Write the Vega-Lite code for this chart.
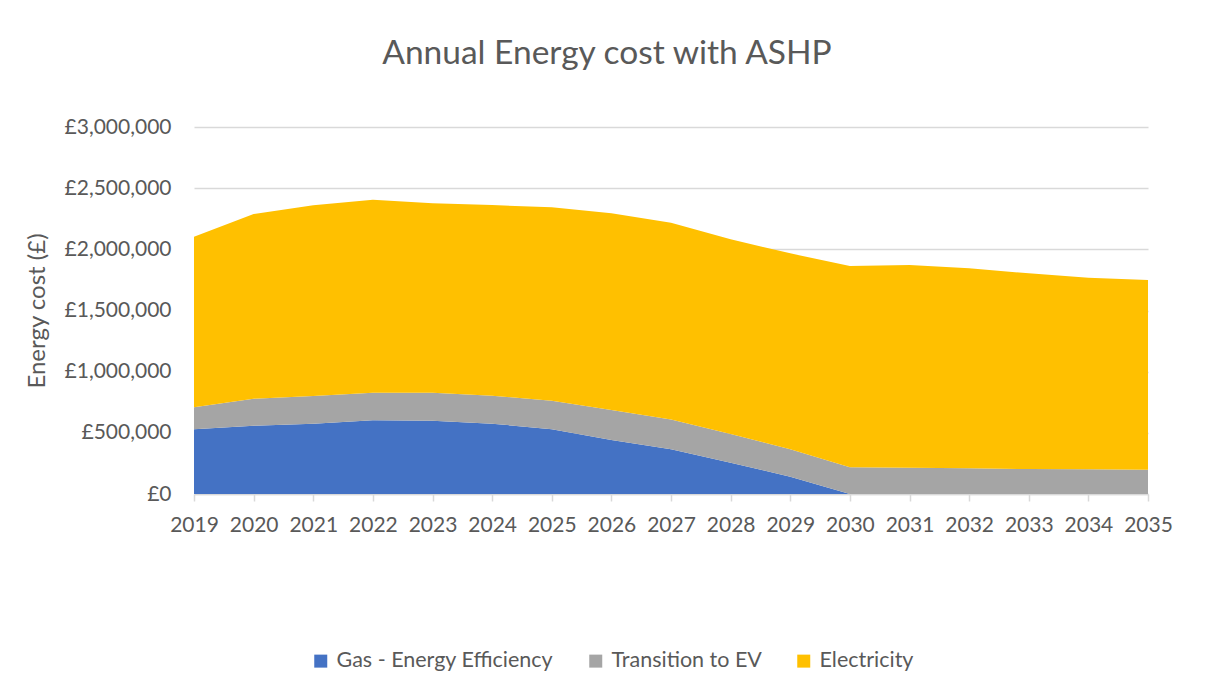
{
  "$schema": "https://vega.github.io/schema/vega-lite/v6.json",
  "width": 954,
  "height": 367,
  "autosize": "none",
  "padding": {"left": 194, "top": 127, "right": 57, "bottom": 199},
  "background": "white",
  "title": {
    "text": "Annual Energy cost with ASHP",
    "font": "Lato",
    "fontSize": 33.5,
    "fontWeight": "normal",
    "color": "#595959",
    "anchor": "middle",
    "dx": -64,
    "offset": 45
  },
  "datasets": {
    "costs": [
      {"year": 2019, "series": "Gas - Energy Efficiency", "cost": 529000},
      {"year": 2020, "series": "Gas - Energy Efficiency", "cost": 558000},
      {"year": 2021, "series": "Gas - Energy Efficiency", "cost": 575000},
      {"year": 2022, "series": "Gas - Energy Efficiency", "cost": 602000},
      {"year": 2023, "series": "Gas - Energy Efficiency", "cost": 599000},
      {"year": 2024, "series": "Gas - Energy Efficiency", "cost": 575000},
      {"year": 2025, "series": "Gas - Energy Efficiency", "cost": 529000},
      {"year": 2026, "series": "Gas - Energy Efficiency", "cost": 441000},
      {"year": 2027, "series": "Gas - Energy Efficiency", "cost": 365000},
      {"year": 2028, "series": "Gas - Energy Efficiency", "cost": 256000},
      {"year": 2029, "series": "Gas - Energy Efficiency", "cost": 142000},
      {"year": 2030, "series": "Gas - Energy Efficiency", "cost": 0},
      {"year": 2031, "series": "Gas - Energy Efficiency", "cost": 0},
      {"year": 2032, "series": "Gas - Energy Efficiency", "cost": 0},
      {"year": 2033, "series": "Gas - Energy Efficiency", "cost": 0},
      {"year": 2034, "series": "Gas - Energy Efficiency", "cost": 0},
      {"year": 2035, "series": "Gas - Energy Efficiency", "cost": 0},
      {"year": 2019, "series": "Transition to EV", "cost": 180000},
      {"year": 2020, "series": "Transition to EV", "cost": 221000},
      {"year": 2021, "series": "Transition to EV", "cost": 226000},
      {"year": 2022, "series": "Transition to EV", "cost": 226000},
      {"year": 2023, "series": "Transition to EV", "cost": 229000},
      {"year": 2024, "series": "Transition to EV", "cost": 229000},
      {"year": 2025, "series": "Transition to EV", "cost": 234000},
      {"year": 2026, "series": "Transition to EV", "cost": 246000},
      {"year": 2027, "series": "Transition to EV", "cost": 245000},
      {"year": 2028, "series": "Transition to EV", "cost": 234000},
      {"year": 2029, "series": "Transition to EV", "cost": 223000},
      {"year": 2030, "series": "Transition to EV", "cost": 218000},
      {"year": 2031, "series": "Transition to EV", "cost": 215000},
      {"year": 2032, "series": "Transition to EV", "cost": 210000},
      {"year": 2033, "series": "Transition to EV", "cost": 204000},
      {"year": 2034, "series": "Transition to EV", "cost": 202000},
      {"year": 2035, "series": "Transition to EV", "cost": 199000},
      {"year": 2019, "series": "Electricity", "cost": 1394000},
      {"year": 2020, "series": "Electricity", "cost": 1510000},
      {"year": 2021, "series": "Electricity", "cost": 1559000},
      {"year": 2022, "series": "Electricity", "cost": 1578000},
      {"year": 2023, "series": "Electricity", "cost": 1548000},
      {"year": 2024, "series": "Electricity", "cost": 1558000},
      {"year": 2025, "series": "Electricity", "cost": 1580000},
      {"year": 2026, "series": "Electricity", "cost": 1607000},
      {"year": 2027, "series": "Electricity", "cost": 1608000},
      {"year": 2028, "series": "Electricity", "cost": 1592000},
      {"year": 2029, "series": "Electricity", "cost": 1602000},
      {"year": 2030, "series": "Electricity", "cost": 1646000},
      {"year": 2031, "series": "Electricity", "cost": 1657000},
      {"year": 2032, "series": "Electricity", "cost": 1635000},
      {"year": 2033, "series": "Electricity", "cost": 1600000},
      {"year": 2034, "series": "Electricity", "cost": 1566000},
      {"year": 2035, "series": "Electricity", "cost": 1550000}
    ]
  },
  "data": {"name": "costs"},
  "transform": [
    {"calculate": "indexof(['Gas - Energy Efficiency','Transition to EV','Electricity'], datum.series)", "as": "stackOrder"}
  ],
  "mark": {"type": "area", "interpolate": "linear"},
  "encoding": {
    "x": {
      "field": "year",
      "type": "quantitative",
      "scale": {"domain": [2019, 2035], "nice": false, "zero": false},
      "axis": {
        "title": null,
        "format": "d",
        "values": [2019,2020,2021,2022,2023,2024,2025,2026,2027,2028,2029,2030,2031,2032,2033,2034,2035],
        "grid": false,
        "domainColor": "#D9D9D9",
        "domainWidth": 1.5,
        "tickColor": "#D9D9D9",
        "tickWidth": 1.5,
        "tickSize": 7,
        "labelFont": "Lato",
        "labelFontSize": 21,
        "labelColor": "#595959",
        "labelPadding": 13,
        "labelFlush": false,
        "labelOverlap": false
      }
    },
    "y": {
      "field": "cost",
      "type": "quantitative",
      "stack": "zero",
      "scale": {"domain": [0, 3000000], "nice": false},
      "axis": {
        "title": "Energy cost (£)",
        "titleFont": "Lato",
        "titleFontSize": 24,
        "titleFontWeight": "normal",
        "titleColor": "#595959",
        "titleX": -145,
        "values": [0, 500000, 1000000, 1500000, 2000000, 2500000, 3000000],
        "labelExpr": "'£' + format(datum.value, ',')",
        "labelFont": "Lato",
        "labelFontSize": 21,
        "labelColor": "#595959",
        "labelPadding": 23,
        "domain": false,
        "ticks": false,
        "grid": true,
        "gridColor": "#D9D9D9",
        "gridWidth": 1.5
      }
    },
    "color": {
      "field": "series",
      "type": "nominal",
      "scale": {
        "domain": ["Gas - Energy Efficiency", "Transition to EV", "Electricity"],
        "range": ["#4472C4", "#A5A5A5", "#FFC000"]
      },
      "legend": {
        "title": null,
        "orient": "none",
        "direction": "horizontal",
        "legendX": 116,
        "legendY": 523,
        "symbolType": "square",
        "symbolSize": 169,
        "symbolStrokeWidth": 0,
        "symbolOpacity": 1,
        "labelFont": "Lato",
        "labelFontSize": 21.5,
        "labelColor": "#595959",
        "labelOffset": 5,
        "columnPadding": 31,
        "labelLimit": 400
      }
    },
    "order": {"field": "stackOrder", "type": "quantitative", "sort": "ascending"}
  },
  "config": {
    "view": {"stroke": null},
    "area": {"opacity": 1}
  }
}
